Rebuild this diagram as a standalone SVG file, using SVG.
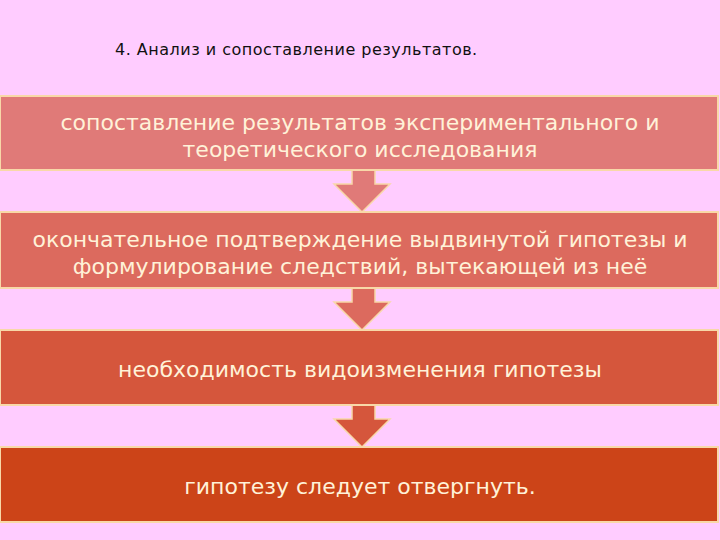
<svg xmlns="http://www.w3.org/2000/svg" width="720" height="540" viewBox="0 0 720 540">
<style>
.box{stroke:#F8D8A8;stroke-width:2}
.t{font-family:"DejaVu Sans",sans-serif;font-size:22px;fill:#FFF2D8;text-anchor:middle}
.ar{stroke:#F8D8A8;stroke-width:1.5}
</style>
<rect width="720" height="540" fill="#FFCCFF"/>
<text x="115" y="55" font-family="DejaVu Sans,sans-serif" font-size="16" letter-spacing="0.5" fill="#111">4. Анализ и сопоставление результатов.</text>
<g id="connectors">
<polygon class="ar" fill="#E07A78" points="352,170 375,170 375,184 390,184 362,212 334,184 352,184"/>
<polygon class="ar" fill="#DC6A5E" points="352,288 375,288 375,302 390,302 362,330 334,302 352,302"/>
<polygon class="ar" fill="#D5563C" points="352,405 375,405 375,419 390,419 362,447 334,419 352,419"/>
</g>
<g id="n1"><rect class="box" x="0" y="96" width="718" height="74" fill="#E07A78"/>
<text class="t" x="360" y="130">сопоставление результатов экспериментального и</text>
<text class="t" x="360" y="157">теоретического исследования</text></g>
<g id="n2"><rect class="box" x="0" y="212" width="718" height="76" fill="#DC6A5E"/>
<text class="t" x="360" y="247">окончательное подтверждение выдвинутой гипотезы и</text>
<text class="t" x="360" y="274">формулирование следствий, вытекающей из неё</text></g>
<g id="n3"><rect class="box" x="0" y="330" width="718" height="75" fill="#D5563C"/>
<text class="t" x="360" y="377">необходимость видоизменения гипотезы</text></g>
<g id="n4"><rect class="box" x="0" y="447" width="718" height="75" fill="#CC4418"/>
<text class="t" x="360" y="494">гипотезу следует отвергнуть.</text></g>
</svg>
